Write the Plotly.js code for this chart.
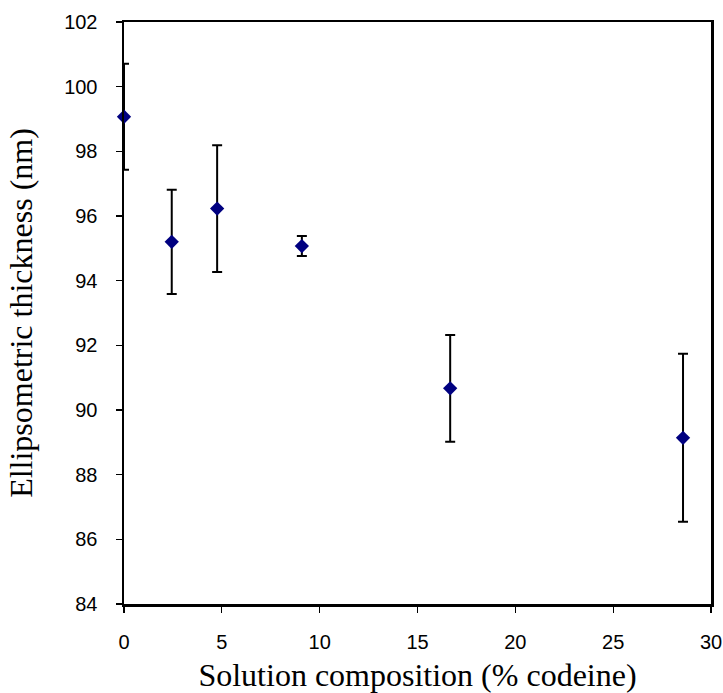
<!DOCTYPE html>
<html>
<head>
<meta charset="utf-8">
<script src="https://cdn.plot.ly/plotly-3.0.1.min.js"></script>
<style>
  html, body { margin: 0; padding: 0; background: #fff; }
  #chart { width: 723px; height: 693px; }
</style>
</head>
<body>
<div id="chart"></div>
<script>
// Codeine content of the solution (%) and measured film thickness (nm)
const codeinePercent = [0, 2.44, 4.76, 9.09, 16.67, 28.57];
const thicknessNm    = [99.07, 95.2, 96.23, 95.07, 90.67, 89.14];
const thicknessErr   = [1.64, 1.61, 1.96, 0.31, 1.65, 2.6];

const xTicks = [0, 5, 10, 15, 20, 25, 30];
const yTicks = [84, 86, 88, 90, 92, 94, 96, 98, 100, 102];

const trace = {
  x: codeinePercent,
  y: thicknessNm,
  type: 'scatter',
  mode: 'markers',
  cliponaxis: false,
  marker: { symbol: 'diamond', size: 11, color: '#000080' },
  error_y: {
    type: 'data',
    array: thicknessErr,
    visible: true,
    color: '#000000',
    thickness: 2,
    width: 5
  },
  hoverinfo: 'x+y'
};

const axisCommon = {
  showline: true,
  linecolor: '#000000',
  linewidth: 2.5,
  mirror: true,
  showgrid: false,
  zeroline: false,
  ticks: 'outside',
  tickcolor: '#000000',
  tickwidth: 1.2,
  ticklen: 6,
  tickfont: { family: 'Liberation Sans, Arial, sans-serif', size: 20, color: '#000000' }
};

const titleFont = { family: 'Liberation Serif, Times New Roman, serif', size: 32, color: '#000000' };

const layout = {
  width: 723,
  height: 693,
  margin: { l: 124, r: 12, t: 22, b: 89 },
  paper_bgcolor: '#ffffff',
  plot_bgcolor: '#ffffff',
  showlegend: false,
  xaxis: Object.assign({}, axisCommon, {
    range: [0, 30],
    tickvals: xTicks,
    ticktext: xTicks.map(String),
    ticklabelstandoff: 12,
    title: { text: 'Solution composition (% codeine)', font: titleFont, standoff: 12 }
  }),
  yaxis: Object.assign({}, axisCommon, {
    range: [84, 102],
    tickvals: yTicks,
    ticktext: yTicks.map(String),
    ticklabelstandoff: 14,
    title: { text: 'Ellipsometric thickness (nm)', font: titleFont, standoff: 22 }
  })
};

Plotly.newPlot('chart', [trace], layout, { displayModeBar: false, staticPlot: true });
</script>
</body>
</html>
